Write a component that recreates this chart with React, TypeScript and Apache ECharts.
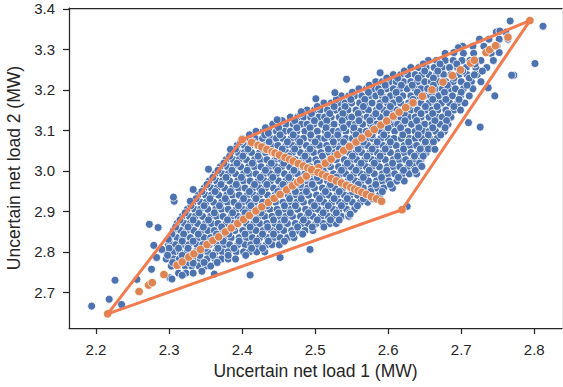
import React, { useEffect, useRef } from "react";
import * as echarts from "echarts";

const xTicks = [2.2, 2.3, 2.4, 2.5, 2.6, 2.7, 2.8];
const yTicks = [2.7, 2.8, 2.9, 3.0, 3.1, 3.2, 3.3, 3.4];
const xName = "Uncertain net load 1 (MW)";
const yName = "Uncertain net load 2 (MW)";

// Blue samples (row y, then x positions in that row)
const blueRowY = [
  3.3425, 3.325, 3.3075, 3.29, 3.2725, 3.255, 3.2375, 3.22, 3.2025, 3.185,
  3.1675, 3.15, 3.1325, 3.115, 3.0975, 3.08, 3.0625, 3.045, 3.0275, 3.01,
  2.9925, 2.975, 2.9575, 2.94, 2.9225, 2.905, 2.8875, 2.87, 2.8525, 2.835,
  2.8175, 2.8, 2.7825, 2.765, 2.7475,
];
const blueRowX = [
  [2.748, 2.761],
  [2.725, 2.738, 2.752, 2.764],
  [2.702, 2.716, 2.731, 2.749],
  [2.678, 2.690, 2.703, 2.717, 2.741],
  [2.655, 2.666, 2.678, 2.689, 2.701, 2.712, 2.727, 2.744],
  [2.631, 2.642, 2.652, 2.663, 2.674, 2.684, 2.695, 2.707, 2.720, 2.735],
  [2.607, 2.617, 2.627, 2.637, 2.646, 2.656, 2.666, 2.676, 2.686, 2.697, 2.708, 2.722],
  [2.583, 2.592, 2.602, 2.611, 2.621, 2.631, 2.640, 2.650, 2.659, 2.669, 2.679, 2.689, 2.700, 2.714, 2.727],
  [2.560, 2.570, 2.579, 2.587, 2.598, 2.607, 2.616, 2.626, 2.637, 2.645, 2.654, 2.665, 2.674, 2.684, 2.692, 2.703, 2.716],
  [2.536, 2.546, 2.554, 2.564, 2.575, 2.583, 2.592, 2.603, 2.612, 2.620, 2.631, 2.641, 2.650, 2.658, 2.669, 2.679, 2.688, 2.699, 2.711],
  [2.512, 2.522, 2.533, 2.541, 2.550, 2.561, 2.570, 2.578, 2.589, 2.599, 2.607, 2.617, 2.628, 2.636, 2.645, 2.656, 2.665, 2.673, 2.684, 2.695, 2.705],
  [2.489, 2.499, 2.507, 2.517, 2.528, 2.536, 2.545, 2.556, 2.565, 2.573, 2.584, 2.594, 2.602, 2.612, 2.623, 2.631, 2.640, 2.651, 2.660, 2.668, 2.679, 2.690, 2.699],
  [2.466, 2.476, 2.484, 2.494, 2.505, 2.513, 2.522, 2.533, 2.542, 2.550, 2.561, 2.571, 2.579, 2.589, 2.600, 2.608, 2.617, 2.628, 2.637, 2.645, 2.656, 2.666, 2.674, 2.686],
  [2.442, 2.452, 2.460, 2.470, 2.481, 2.489, 2.498, 2.509, 2.518, 2.526, 2.537, 2.547, 2.555, 2.565, 2.576, 2.584, 2.593, 2.604, 2.613, 2.621, 2.632, 2.642, 2.650, 2.660, 2.671, 2.682],
  [2.419, 2.429, 2.437, 2.447, 2.458, 2.466, 2.475, 2.486, 2.495, 2.503, 2.514, 2.524, 2.532, 2.542, 2.553, 2.561, 2.570, 2.581, 2.590, 2.598, 2.609, 2.619, 2.627, 2.637, 2.648, 2.656, 2.665, 2.677],
  [2.400, 2.410, 2.418, 2.428, 2.439, 2.447, 2.456, 2.467, 2.476, 2.484, 2.495, 2.505, 2.513, 2.523, 2.534, 2.542, 2.551, 2.562, 2.571, 2.579, 2.590, 2.600, 2.608, 2.618, 2.629, 2.637, 2.646, 2.657, 2.667],
  [2.393, 2.403, 2.411, 2.421, 2.432, 2.440, 2.449, 2.460, 2.469, 2.477, 2.488, 2.498, 2.506, 2.516, 2.527, 2.535, 2.544, 2.555, 2.564, 2.572, 2.583, 2.593, 2.601, 2.611, 2.622, 2.630, 2.639, 2.650, 2.660],
  [2.385, 2.395, 2.403, 2.413, 2.424, 2.432, 2.441, 2.452, 2.461, 2.469, 2.480, 2.490, 2.498, 2.508, 2.519, 2.527, 2.536, 2.547, 2.556, 2.564, 2.575, 2.585, 2.593, 2.603, 2.614, 2.622, 2.631, 2.642, 2.652],
  [2.378, 2.388, 2.396, 2.406, 2.417, 2.425, 2.434, 2.445, 2.454, 2.462, 2.473, 2.483, 2.491, 2.501, 2.512, 2.520, 2.529, 2.540, 2.549, 2.557, 2.568, 2.578, 2.586, 2.596, 2.607, 2.615, 2.624, 2.635, 2.645],
  [2.370, 2.380, 2.388, 2.398, 2.409, 2.417, 2.426, 2.437, 2.446, 2.454, 2.465, 2.475, 2.483, 2.493, 2.504, 2.512, 2.521, 2.532, 2.541, 2.549, 2.560, 2.570, 2.578, 2.588, 2.599, 2.607, 2.616, 2.627, 2.636, 2.646],
  [2.363, 2.373, 2.381, 2.391, 2.402, 2.410, 2.419, 2.430, 2.439, 2.447, 2.458, 2.468, 2.476, 2.486, 2.497, 2.505, 2.514, 2.525, 2.534, 2.542, 2.553, 2.563, 2.571, 2.581, 2.592, 2.600, 2.609, 2.620, 2.629, 2.639],
  [2.355, 2.365, 2.373, 2.383, 2.394, 2.402, 2.411, 2.422, 2.431, 2.439, 2.450, 2.460, 2.468, 2.478, 2.489, 2.497, 2.506, 2.517, 2.526, 2.534, 2.545, 2.555, 2.563, 2.573, 2.584, 2.592, 2.601, 2.612, 2.622],
  [2.348, 2.358, 2.366, 2.376, 2.387, 2.395, 2.404, 2.415, 2.424, 2.432, 2.443, 2.453, 2.461, 2.471, 2.482, 2.490, 2.499, 2.510, 2.519, 2.527, 2.538, 2.548, 2.556, 2.566, 2.577, 2.585, 2.594, 2.606],
  [2.340, 2.350, 2.358, 2.368, 2.379, 2.387, 2.396, 2.407, 2.416, 2.424, 2.435, 2.445, 2.453, 2.463, 2.474, 2.482, 2.491, 2.502, 2.511, 2.519, 2.530, 2.540, 2.548, 2.558, 2.569, 2.578, 2.588],
  [2.333, 2.343, 2.351, 2.361, 2.372, 2.380, 2.389, 2.400, 2.409, 2.417, 2.428, 2.438, 2.446, 2.456, 2.467, 2.475, 2.484, 2.495, 2.504, 2.512, 2.523, 2.533, 2.541, 2.551, 2.562, 2.572],
  [2.325, 2.335, 2.343, 2.353, 2.364, 2.372, 2.381, 2.392, 2.401, 2.409, 2.420, 2.430, 2.438, 2.448, 2.459, 2.467, 2.476, 2.487, 2.496, 2.504, 2.515, 2.525, 2.533, 2.543, 2.554],
  [2.318, 2.328, 2.336, 2.346, 2.357, 2.365, 2.374, 2.385, 2.394, 2.402, 2.413, 2.423, 2.431, 2.441, 2.452, 2.460, 2.469, 2.480, 2.489, 2.497, 2.508, 2.518, 2.526, 2.536, 2.546],
  [2.311, 2.321, 2.329, 2.339, 2.350, 2.358, 2.367, 2.378, 2.387, 2.395, 2.406, 2.416, 2.424, 2.434, 2.445, 2.453, 2.462, 2.473, 2.482, 2.490, 2.501, 2.511, 2.520, 2.529],
  [2.306, 2.316, 2.324, 2.334, 2.345, 2.353, 2.362, 2.373, 2.382, 2.390, 2.401, 2.411, 2.419, 2.429, 2.440, 2.448, 2.457, 2.468, 2.477, 2.486, 2.497],
  [2.301, 2.311, 2.319, 2.329, 2.340, 2.348, 2.357, 2.368, 2.377, 2.385, 2.396, 2.406, 2.414, 2.424, 2.435, 2.443, 2.452, 2.462, 2.471],
  [2.299, 2.309, 2.317, 2.327, 2.338, 2.346, 2.355, 2.366, 2.375, 2.383, 2.394, 2.404, 2.412, 2.422, 2.433, 2.441, 2.451],
  [2.297, 2.307, 2.315, 2.325, 2.336, 2.344, 2.353, 2.364, 2.373, 2.381, 2.392, 2.402, 2.410, 2.420, 2.431],
  [2.296, 2.306, 2.314, 2.324, 2.335, 2.343, 2.352, 2.363, 2.372, 2.381, 2.391],
  [2.303, 2.312, 2.322, 2.331, 2.341, 2.350, 2.357],
  [2.313, 2.323, 2.333],
];
// Blue samples lying between those rows
const blueMidY = [
  3.2638, 3.2463, 3.2288, 3.2113, 3.1938, 3.1763, 3.1588, 3.1413, 3.1238, 3.1063,
  3.0888, 3.0713, 3.0538, 3.0363, 3.0188, 3.0013, 2.9838, 2.9663, 2.9488, 2.9313,
  2.9138, 2.8963, 2.8788, 2.8613, 2.8438, 2.8263, 2.8088, 2.7913, 2.7738,
];
const blueMidX = [
  [2.648, 2.671, 2.694, 2.719],
  [2.622, 2.650, 2.668, 2.702, 2.729],
  [2.598, 2.613, 2.641, 2.662, 2.690, 2.711],
  [2.574, 2.596, 2.618, 2.633, 2.662, 2.681, 2.708],
  [2.551, 2.573, 2.590, 2.611, 2.640, 2.660, 2.677, 2.700],
  [2.529, 2.549, 2.568, 2.596, 2.615, 2.634, 2.661, 2.679, 2.697],
  [2.503, 2.526, 2.541, 2.566, 2.588, 2.603, 2.628, 2.651, 2.667, 2.690],
  [2.480, 2.495, 2.520, 2.538, 2.559, 2.583, 2.598, 2.622, 2.645, 2.661, 2.682],
  [2.455, 2.472, 2.499, 2.516, 2.537, 2.560, 2.575, 2.601, 2.623, 2.639, 2.664, 2.680],
  [2.432, 2.450, 2.475, 2.493, 2.515, 2.539, 2.553, 2.579, 2.600, 2.617, 2.642, 2.661, 2.678],
  [2.410, 2.431, 2.452, 2.470, 2.494, 2.517, 2.531, 2.556, 2.578, 2.594, 2.620, 2.641, 2.655, 2.672],
  [2.398, 2.415, 2.437, 2.462, 2.479, 2.500, 2.525, 2.539, 2.566, 2.585, 2.603, 2.628, 2.651, 2.662],
  [2.391, 2.408, 2.430, 2.455, 2.472, 2.493, 2.518, 2.533, 2.559, 2.578, 2.596, 2.621, 2.644, 2.655],
  [2.383, 2.401, 2.422, 2.447, 2.464, 2.486, 2.510, 2.526, 2.551, 2.571, 2.589, 2.613, 2.636, 2.648],
  [2.375, 2.393, 2.414, 2.440, 2.457, 2.479, 2.503, 2.518, 2.544, 2.563, 2.581, 2.606, 2.629, 2.643],
  [2.367, 2.386, 2.407, 2.432, 2.449, 2.471, 2.495, 2.511, 2.536, 2.556, 2.574, 2.598, 2.621, 2.637],
  [2.360, 2.378, 2.399, 2.425, 2.442, 2.464, 2.488, 2.503, 2.529, 2.548, 2.566, 2.591, 2.614],
  [2.352, 2.371, 2.392, 2.417, 2.434, 2.456, 2.480, 2.496, 2.521, 2.541, 2.559, 2.583, 2.603],
  [2.345, 2.363, 2.384, 2.410, 2.427, 2.449, 2.473, 2.488, 2.514, 2.533, 2.551, 2.576, 2.592],
  [2.337, 2.356, 2.377, 2.402, 2.419, 2.441, 2.465, 2.481, 2.506, 2.526, 2.544, 2.566, 2.578],
  [2.330, 2.348, 2.369, 2.395, 2.412, 2.434, 2.458, 2.473, 2.499, 2.518, 2.536, 2.558],
  [2.322, 2.341, 2.362, 2.387, 2.404, 2.426, 2.450, 2.466, 2.491, 2.511, 2.529, 2.547],
  [2.315, 2.333, 2.354, 2.380, 2.397, 2.419, 2.443, 2.458, 2.484, 2.503, 2.521, 2.533],
  [2.309, 2.326, 2.347, 2.372, 2.389, 2.411, 2.435, 2.451, 2.476, 2.496, 2.512],
  [2.304, 2.320, 2.340, 2.365, 2.382, 2.404, 2.428, 2.443, 2.469, 2.483],
  [2.300, 2.318, 2.333, 2.357, 2.374, 2.396, 2.420, 2.436, 2.458],
  [2.300, 2.313, 2.326, 2.350, 2.367, 2.389, 2.413, 2.428],
  [2.298, 2.318, 2.342, 2.360, 2.381, 2.405],
  [2.305, 2.327, 2.348, 2.366],
];
// Scattered blue samples outside the dense cloud
const blueExtra = [
  [2.194, 2.666], [2.218, 2.683], [2.226, 2.730], [2.235, 2.670], [2.256, 2.732],
  [2.276, 2.757], [2.273, 2.868], [2.285, 2.860], [2.307, 2.925], [2.279, 2.816],
  [2.283, 2.786], [2.290, 2.806], [2.301, 2.736], [2.329, 2.925], [2.299, 2.831],
  [2.354, 3.004], [2.384, 3.053], [2.333, 2.954], [2.306, 2.935], [2.543, 3.226],
  [2.589, 3.242], [2.527, 3.193], [2.501, 3.178], [2.481, 3.146], [2.448, 3.126],
  [2.436, 3.093], [2.767, 3.370], [2.812, 3.357], [2.801, 3.265], [2.772, 3.236],
  [2.769, 3.236], [2.753, 3.345], [2.752, 3.292], [2.746, 3.185], [2.726, 3.108],
  [2.710, 3.119], [2.737, 3.205], [2.718, 3.237], [2.696, 3.304], [2.690, 3.292],
  [2.664, 3.053], [2.646, 3.011], [2.411, 2.743], [2.493, 2.806], [2.452, 2.786],
  [2.546, 2.888], [2.626, 2.912], [2.548, 2.893], [2.333, 2.772], [2.345, 2.752],
  [2.362, 2.745], [2.318, 2.742], [2.304, 2.733],
];

// Orange samples on the long diagonal
const longDiagX = [
  2.259, 2.272, 2.277, 2.293, 2.311, 2.318, 2.327, 2.334, 2.343, 2.352, 2.360, 2.368, 2.377, 2.385,
  2.394, 2.402, 2.410, 2.419, 2.427, 2.436, 2.444, 2.452, 2.461, 2.469, 2.476, 2.480, 2.488, 2.497,
  2.505, 2.514, 2.522, 2.531, 2.539, 2.547, 2.556, 2.564, 2.573, 2.581, 2.590, 2.598, 2.607, 2.615,
  2.624, 2.634, 2.647, 2.660, 2.675, 2.688, 2.699, 2.713, 2.718, 2.734, 2.739, 2.747, 2.764,
];
const longDiagY = [
  2.702, 2.718, 2.724, 2.744, 2.767, 2.775, 2.787, 2.795, 2.806, 2.818, 2.828, 2.837, 2.849, 2.859,
  2.870, 2.880, 2.890, 2.901, 2.911, 2.922, 2.932, 2.942, 2.953, 2.963, 2.972, 2.977, 2.987, 2.998,
  3.008, 3.019, 3.029, 3.040, 3.050, 3.060, 3.071, 3.081, 3.092, 3.102, 3.113, 3.123, 3.135, 3.145,
  3.156, 3.168, 3.184, 3.200, 3.219, 3.235, 3.249, 3.266, 3.273, 3.292, 3.299, 3.309, 3.330,
];
// Orange samples on the short diagonal
const shortDiagX = [
  2.413, 2.422, 2.427, 2.434, 2.441, 2.445, 2.451, 2.459, 2.465, 2.470, 2.477, 2.484, 2.490, 2.495,
  2.504, 2.510, 2.516, 2.522, 2.529, 2.536, 2.543, 2.549, 2.554, 2.559, 2.564, 2.570, 2.577, 2.584, 2.591,
];
const shortDiagY = [
  3.070, 3.063, 3.059, 3.053, 3.047, 3.044, 3.039, 3.033, 3.028, 3.024, 3.018, 3.012, 3.007, 3.003,
  2.996, 2.991, 2.986, 2.981, 2.975, 2.970, 2.964, 2.959, 2.955, 2.951, 2.947, 2.942, 2.936, 2.931, 2.925,
];
// Polytope vertices (closed)
const polyX = [2.216, 2.400, 2.794, 2.619, 2.216];
const polyY = [2.647, 3.077, 3.371, 2.904, 2.647];

const FONT = "'Liberation Sans', Arial, sans-serif";
const INK = "#262626";

export default function App() {
  const ref = useRef<HTMLDivElement>(null);
  useEffect(() => {
    const chart = echarts.init(ref.current!, null, { renderer: "svg" });
    const blue: number[][] = [];
    blueRowY.forEach((y, i) => blueRowX[i].forEach((x) => blue.push([x, y])));
    blueMidY.forEach((y, i) => blueMidX[i].forEach((x) => blue.push([x, y])));
    blueExtra.forEach((p) => blue.push(p));
    const orange: number[][] = [];
    longDiagX.forEach((x, i) => orange.push([x, longDiagY[i]]));
    shortDiagX.forEach((x, i) => orange.push([x, shortDiagY[i]]));
    polyX.slice(0, 4).forEach((x, i) => orange.push([x, polyY[i]]));
    const poly = polyX.map((x, i) => [x, polyY[i]]);

    const xMin = 2.163, xMax = 2.838, yMin = 2.612, yMax = 3.402;
    chart.setOption({
      animation: false,
      backgroundColor: "#ffffff",
      grid: { left: 69, right: 1, top: 8, bottom: 59, outerBoundsMode: "none", containLabel: false },
      xAxis: [
        {
          type: "value", min: xMin, max: xMax, position: "bottom",
          name: xName, nameLocation: "middle", nameGap: 33,
          nameTextStyle: { fontFamily: FONT, fontSize: 17.5, color: INK },
          axisLine: { show: true, lineStyle: { color: INK, width: 1.25 } },
          axisTick: { show: true, length: 6, inside: false, customValues: xTicks, lineStyle: { color: INK, width: 1.25 } },
          axisLabel: { customValues: xTicks, margin: 14, fontFamily: FONT, fontSize: 15, color: INK, formatter: (v: number) => v.toFixed(1) },
          splitLine: { show: false },
        },
        {
          type: "value", min: xMin, max: xMax, position: "top",
          axisLine: { show: true, onZero: false, lineStyle: { color: INK, width: 1.25 } },
          axisTick: { show: false }, axisLabel: { show: false }, splitLine: { show: false },
        },
      ],
      yAxis: [
        {
          type: "value", min: yMin, max: yMax, position: "left",
          name: yName, nameLocation: "middle", nameGap: 42,
          nameTextStyle: { fontFamily: FONT, fontSize: 17.5, color: INK },
          axisLine: { show: true, lineStyle: { color: INK, width: 1.25 } },
          axisTick: { show: true, length: 6, inside: false, customValues: yTicks, lineStyle: { color: INK, width: 1.25 } },
          axisLabel: { customValues: yTicks, margin: 14, fontFamily: FONT, fontSize: 15, color: INK, formatter: (v: number) => v.toFixed(1) },
          splitLine: { show: false },
        },
        {
          type: "value", min: yMin, max: yMax, position: "right",
          axisLine: { show: true, onZero: false, lineStyle: { color: "#e6e6e6", width: 1 } },
          axisTick: { show: false }, axisLabel: { show: false }, splitLine: { show: false },
        },
      ],
      series: [
        {
          type: "scatter", data: blue, symbol: "circle", symbolSize: 8,
          itemStyle: { color: "#4c72b0", borderColor: "#ffffff", borderWidth: 0.8, opacity: 1 },
          progressive: 0, large: false, z: 2, silent: true,
        },
        {
          type: "scatter", data: orange, symbol: "circle", symbolSize: 8.5,
          itemStyle: { color: "#dd8452", borderColor: "#ffffff", borderWidth: 0.8, opacity: 1 },
          progressive: 0, large: false, z: 3, silent: true,
        },
        {
          type: "line", data: poly, symbol: "none", z: 4, silent: true,
          lineStyle: { color: "#f27b4f", width: 3, join: "round", cap: "round" },
        },
      ],
    });
    return () => chart.dispose();
  }, []);
  return (
    <div
      ref={ref}
      style={{ position: "absolute", left: 0, top: 0, width: 563, height: 387, background: "#fff" }}
    />
  );
}
